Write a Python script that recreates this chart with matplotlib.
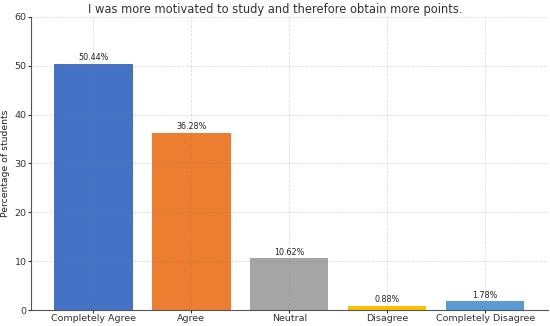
import matplotlib.pyplot as plt

categories = ['Completely Agree', 'Agree', 'Neutral', 'Disagree', 'Completely Disagree']
percentages = [50.44, 36.28, 10.62, 0.88, 1.78]
colors = ['#4472C4', '#ED7D31', '#A5A5A5', '#FFC000', '#5B9BD5']

fig = plt.figure(figsize=(5.5, 3.26), dpi=100)
ax = fig.add_axes([0.056, 0.049, 0.94, 0.899])

bars = ax.bar(categories, percentages, color=colors, width=0.8)
for b, v in zip(bars, percentages):
    ax.text(b.get_x() + b.get_width() / 2, v + 0.3, f'{v:.2f}%',
            ha='center', va='bottom', fontsize=5.8, color='#222222')

ax.set_ylim(0, 60)
ax.set_ylabel('Percentage of students', fontsize=6.7, color='#222222', labelpad=3)
# title is centred on the whole figure, not the axes
fig.text(0.5, 1 - 13 / 326, 'I was more motivated to study and therefore obtain more points.',
         ha='center', va='baseline', fontsize=8.3, color='#333333')
ax.set_axisbelow(False)
ax.grid(True, linestyle='--', linewidth=0.6, color='gray', alpha=0.25)
ax.tick_params(labelsize=6.8, colors='#333333', length=2, pad=1)
for s in ['top', 'right']:
    ax.spines[s].set_visible(False)
for s in ['left', 'bottom']:
    ax.spines[s].set_color('#555555')

fig.savefig('out.png', dpi=100)
